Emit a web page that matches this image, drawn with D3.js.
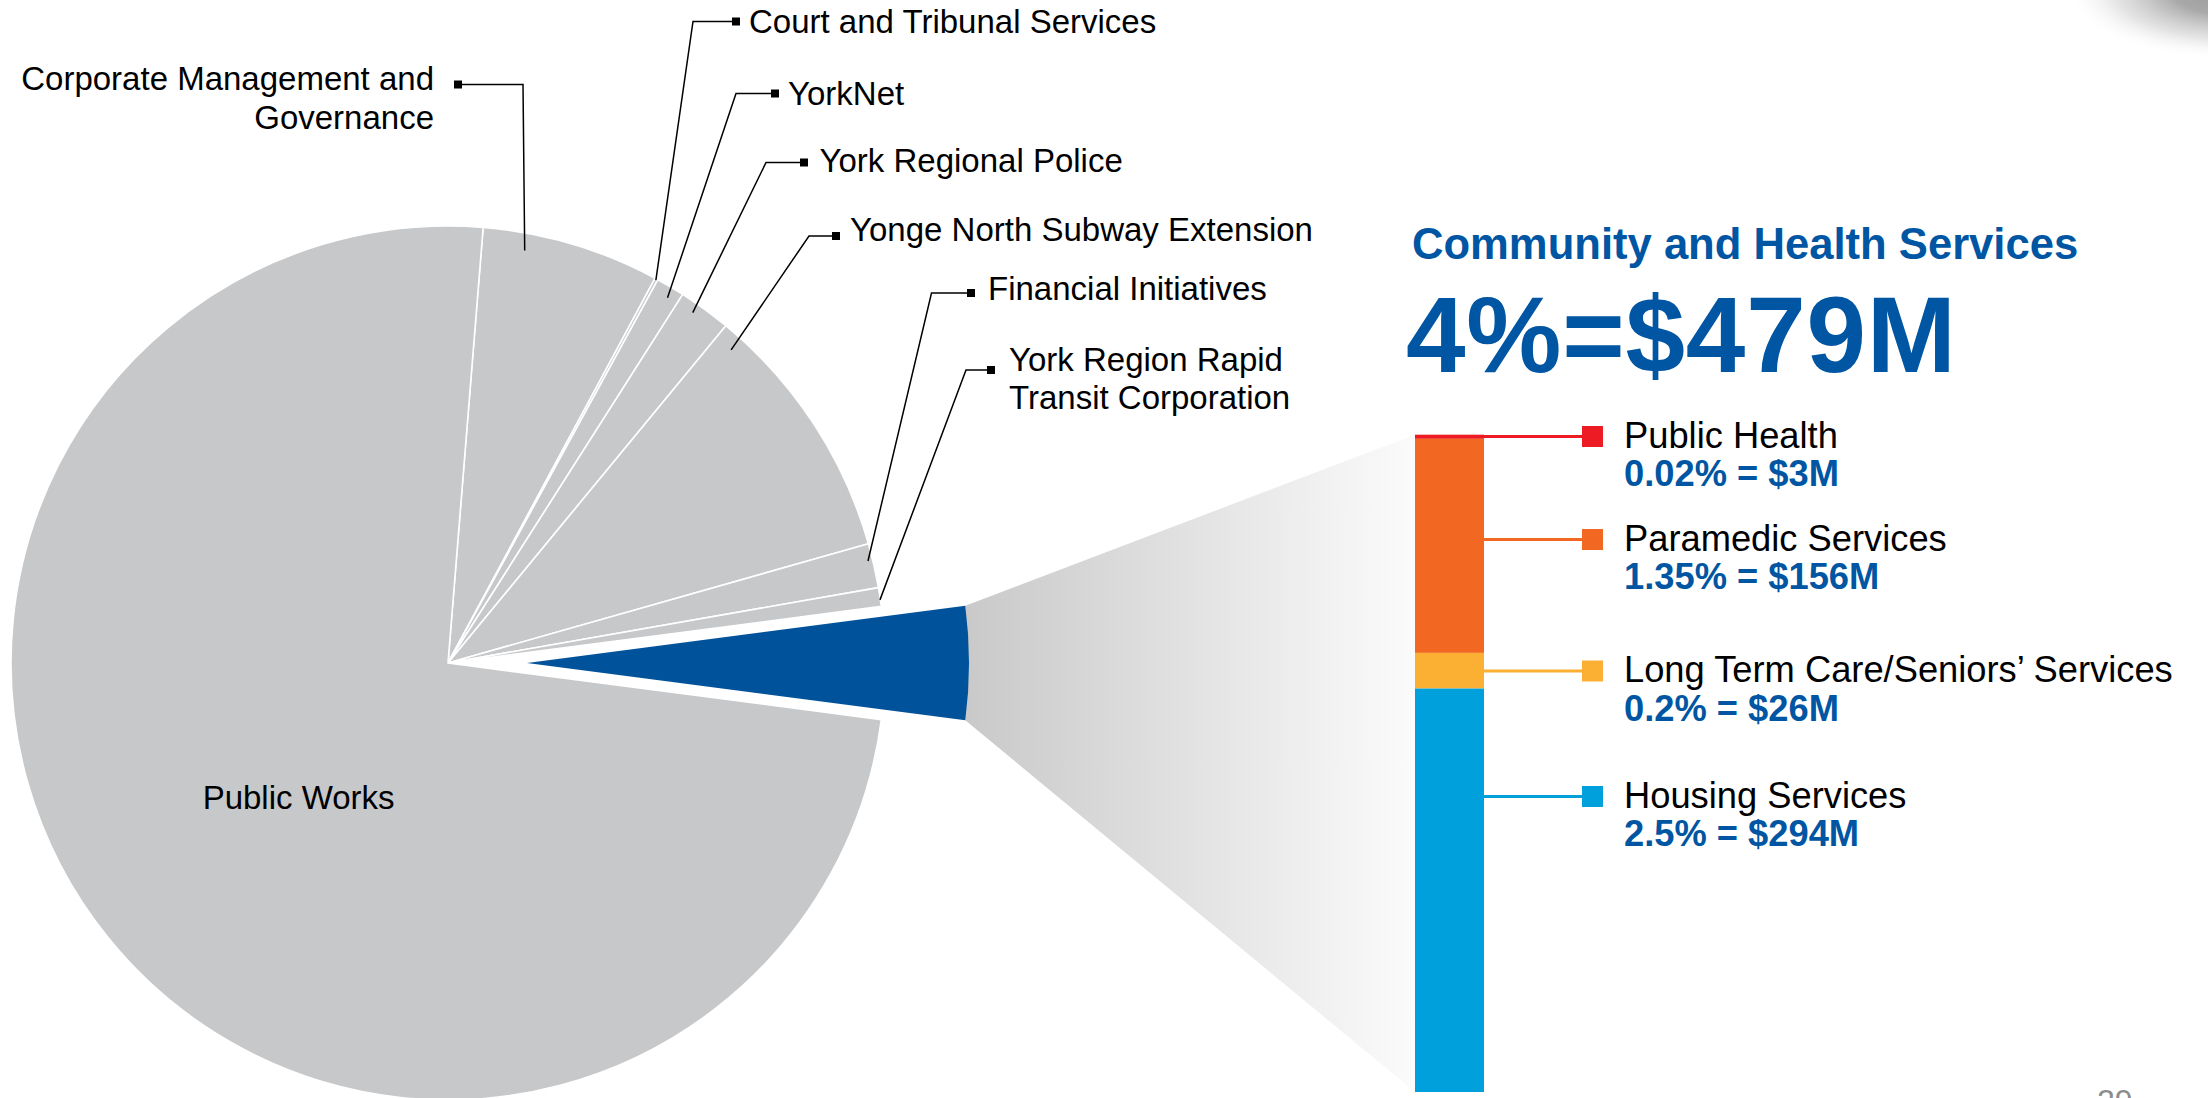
<!DOCTYPE html>
<html>
<head>
<meta charset="utf-8">
<script src="https://cdn.jsdelivr.net/npm/d3@7"></script>
<style>
  html, body { margin: 0; padding: 0; background: #fff; overflow: hidden; }
  svg { display: block; }
  text { font-family: "Liberation Sans", Arial, Helvetica, sans-serif; }
</style>
</head>
<body>
<svg id="chart" width="2208" height="1098"></svg>
<script>
// ---- Data: budget by department ($M) ----
const departments = [
  "Corporate Management and Governance",
  "Court and Tribunal Services",
  "YorkNet",
  "York Regional Police",
  "Yonge North Subway Extension",
  "Financial Initiatives",
  "York Region Rapid Transit Corporation",
  "Community and Health Services",
  "Public Works"
];
const departmentBudget = [762, 13, 122, 225, 1116, 190, 80, 479, 8597];
const highlighted = "Community and Health Services";
const highlightedShare = "4%";

// ---- Data: Community and Health Services breakdown ($M) ----
const programs = ["Public Health", "Paramedic Services", "Long Term Care/Seniors’ Services", "Housing Services"];
const programBudget = [3, 156, 26, 294];
const programShare = ["0.02%", "1.35%", "0.2%", "2.5%"];

// ---- Styling ----
const GREY = "#c7c8ca";
const BLUE = "#00539b";
const TEXT_BLUE = "#0056a2";
const programColors = ["#ed1c24", "#f26722", "#fbb034", "#00a0dc"];

// ---- Layout ----
const cx = 448, cy = 663, R = 437, Rhi = 442, explode = 79;
const bar = { x: 1415, w: 69, top: 434.7, bottom: 1092 };
const legendRowY = [436.5, 539.5, 671, 796.5];
const legendSquareX = 1582, legendSquare = 21, legendTextX = 1624;
const labelSize = 33;

// Callout placement for the small pie slices
const pieCallouts = [
  { name: departments[0], lines: ["Corporate Management and", "Governance"], anchor: "end", tx: 434, ty: 90.4, lh: 39, sq: [458, 84.5], elbowX: 523, t: 0.25, rr: 0.96 },
  { name: departments[1], lines: ["Court and Tribunal Services"], anchor: "start", tx: 749, ty: 32.6, sq: [736, 21.5], elbowX: 693, t: 0.5, rr: 0.997 },
  { name: departments[2], lines: ["YorkNet"], anchor: "start", tx: 788, ty: 104.6, sq: [775, 93.5], elbowX: 736, t: 0.61, rr: 0.975 },
  { name: departments[3], lines: ["York Regional Police"], anchor: "start", tx: 819.5, ty: 172, sq: [804, 162.5], elbowX: 766, t: 0.35, rr: 0.978 },
  { name: departments[4], lines: ["Yonge North Subway Extension"], anchor: "start", tx: 850, ty: 241, sq: [836, 236], elbowX: 809, t: 0.076, rr: 0.966 },
  { name: departments[5], lines: ["Financial Initiatives"], anchor: "start", tx: 988, ty: 300, sq: [971, 293], elbowX: 931.5, t: 0.37, rr: 0.989 },
  { name: departments[6], lines: ["York Region Rapid", "Transit Corporation"], anchor: "start", tx: 1009, ty: 370.6, lh: 38, sq: [991, 370], elbowX: 966, t: 0.65, rr: 0.999 }
];

const svg = d3.select("#chart");
const defs = svg.append("defs");

// Page-corner shadow
const shade = defs.append("radialGradient").attr("id", "cornerShade")
  .attr("cx", 0.5).attr("cy", 0.5).attr("r", 0.5);
shade.append("stop").attr("offset", "0%").attr("stop-color", "#9a9a9a");
shade.append("stop").attr("offset", "35%").attr("stop-color", "#a8a8a8");
shade.append("stop").attr("offset", "70%").attr("stop-color", "#d8d8d8").attr("stop-opacity", 0.7);
shade.append("stop").attr("offset", "100%").attr("stop-color", "#ffffff").attr("stop-opacity", 0);
svg.append("ellipse").attr("cx", 2230).attr("cy", -10).attr("rx", 165).attr("ry", 70)
  .attr("fill", "url(#cornerShade)");

// ---- Pie layout, rotated so the highlighted slice points to 3 o'clock ----
const pieData = departments.map((name, i) => ({ name, value: departmentBudget[i] }));
const basePie = d3.pie().sort(null).value(d => d.value);
const base = basePie(pieData).find(d => d.data.name === highlighted);
const rot = Math.PI / 2 - (base.startAngle + base.endAngle) / 2;
const pie = d3.pie().sort(null).value(d => d.value).startAngle(rot).endAngle(rot + 2 * Math.PI);
const arcs = pie(pieData);
const arc = d3.arc().innerRadius(0).outerRadius(R);
const arcHi = d3.arc().innerRadius(0).outerRadius(Rhi);
const polar = (a, r) => [r * Math.sin(a), -r * Math.cos(a)];

const hi = arcs.find(d => d.data.name === highlighted);
const hiMid = (hi.startAngle + hi.endAngle) / 2;
const [ox, oy] = polar(hiMid, explode);
const tip = [cx + ox, cy + oy];
const p0 = polar(hi.startAngle, Rhi), p1 = polar(hi.endAngle, Rhi);
const arcTop = [tip[0] + p0[0], tip[1] + p0[1]];
const arcBottom = [tip[0] + p1[0], tip[1] + p1[1]];

// ---- Funnel from the exploded slice to the breakdown bar ----
const funnelGrad = defs.append("linearGradient").attr("id", "funnelGrad")
  .attr("gradientUnits", "userSpaceOnUse")
  .attr("x1", arcTop[0]).attr("x2", bar.x).attr("y1", 0).attr("y2", 0);
funnelGrad.append("stop").attr("offset", "0%").attr("stop-color", "#c9c9c9");
funnelGrad.append("stop").attr("offset", "100%").attr("stop-color", "#fbfbfb");
svg.append("path")
  .attr("d", d3.line()([arcTop, [bar.x, bar.top], [bar.x, bar.bottom], arcBottom]) + "Z")
  .attr("fill", "url(#funnelGrad)");

// ---- Pie slices ----
const pieG = svg.append("g").attr("transform", `translate(${cx},${cy})`);
pieG.selectAll("path.slice")
  .data(arcs.filter(d => d.data.name !== highlighted))
  .join("path").attr("class", "slice")
  .attr("d", arc)
  .attr("fill", GREY)
  .attr("stroke", "#ffffff").attr("stroke-width", 1.6).attr("stroke-linejoin", "round");

pieG.append("path")
  .datum(hi)
  .attr("transform", `translate(${ox},${oy})`)
  .attr("d", arcHi)
  .attr("fill", BLUE);

// Label inside the large slice
const pw = arcs.find(d => d.data.name === "Public Works");
const pwPos = d3.arc().innerRadius(205).outerRadius(205).centroid(pw);
pieG.append("text")
  .attr("x", pwPos[0] + 10).attr("y", pwPos[1] + 17)
  .attr("text-anchor", "middle").attr("font-size", labelSize).attr("fill", "#000")
  .text("Public Works");

// ---- Callouts for the small slices ----
const callG = svg.append("g");
pieCallouts.forEach(c => {
  const d = arcs.find(a => a.data.name === c.name);
  const ang = d.startAngle + c.t * (d.endAngle - d.startAngle);
  const [ex, ey] = polar(ang, R * c.rr);
  const end = [cx + ex, cy + ey];
  callG.append("path")
    .attr("d", d3.line()([c.sq, [c.elbowX, c.sq[1]], end]))
    .attr("fill", "none").attr("stroke", "#000").attr("stroke-width", 1.5);
  callG.append("rect")
    .attr("x", c.sq[0] - 4).attr("y", c.sq[1] - 4).attr("width", 8).attr("height", 8)
    .attr("fill", "#000");
  const t = callG.append("text")
    .attr("text-anchor", c.anchor).attr("font-size", labelSize).attr("fill", "#000");
  c.lines.forEach((ln, i) => {
    t.append("tspan").attr("x", c.tx).attr("y", c.ty + i * (c.lh || 0)).text(ln);
  });
});

// ---- Heading ----
svg.append("text")
  .attr("x", 1412).attr("y", 259)
  .attr("font-size", 43.6).attr("font-weight", "bold").attr("fill", TEXT_BLUE)
  .text(highlighted);
svg.append("text")
  .attr("x", 1406).attr("y", 372)
  .attr("font-size", 107).attr("font-weight", "bold").attr("fill", TEXT_BLUE)
  .attr("letter-spacing", 0.8)
  .text(`${highlightedShare}=$${d3.sum(programBudget)}M`);

// ---- Stacked breakdown bar ----
const yBar = d3.scaleLinear().domain([0, d3.sum(programBudget)]).range([bar.top, bar.bottom]);
const stack = [];
programBudget.reduce((acc, v, i) => { stack.push({ i, y0: acc, y1: acc + v }); return acc + v; }, 0);
svg.append("g").selectAll("rect")
  .data(stack).join("rect")
  .attr("x", bar.x).attr("width", bar.w)
  .attr("y", d => yBar(d.y0)).attr("height", d => yBar(d.y1) - yBar(d.y0))
  .attr("fill", d => programColors[d.i]);

// ---- Breakdown legend ----
const leg = svg.append("g");
programs.forEach((p, i) => {
  const y = legendRowY[i];
  leg.append("line")
    .attr("x1", bar.x + bar.w).attr("x2", legendSquareX).attr("y1", y).attr("y2", y)
    .attr("stroke", programColors[i]).attr("stroke-width", 3);
  leg.append("rect")
    .attr("x", legendSquareX).attr("y", y - legendSquare / 2)
    .attr("width", legendSquare).attr("height", legendSquare)
    .attr("fill", programColors[i]);
  leg.append("text")
    .attr("x", legendTextX).attr("y", y + 11)
    .attr("font-size", 36.3).attr("fill", "#000")
    .text(p);
  leg.append("text")
    .attr("x", legendTextX).attr("y", y + 49.5)
    .attr("font-size", 36.3).attr("font-weight", "bold").attr("fill", TEXT_BLUE)
    .text(`${programShare[i]} = $${programBudget[i]}M`);
});

// Page number
svg.append("text")
  .attr("x", 2097).attr("y", 1112)
  .attr("font-size", 32).attr("fill", "#8c8c8c")
  .text("29");
</script>
</body>
</html>
